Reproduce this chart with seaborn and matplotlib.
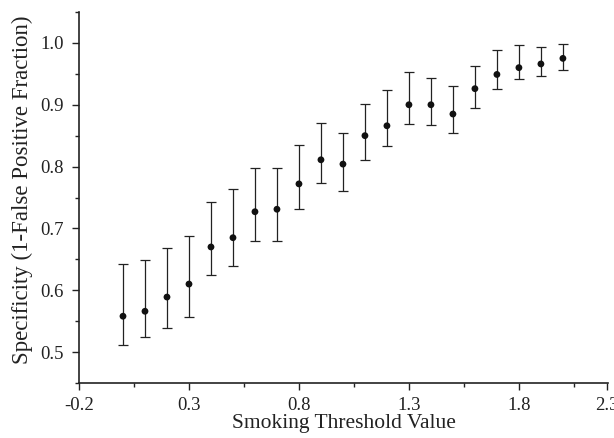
import numpy as np
import pandas as pd
import matplotlib
matplotlib.use("Agg")
import matplotlib.pyplot as plt
import seaborn as sns
from matplotlib.ticker import FixedLocator, MultipleLocator

# data
threshold = [0.0, 0.1, 0.2, 0.3, 0.4, 0.5, 0.6, 0.7, 0.8, 0.9, 1.0,
             1.1, 1.2, 1.3, 1.4, 1.5, 1.6, 1.7, 1.8, 1.9, 2.0]
specificity = [0.558, 0.566, 0.589, 0.610, 0.670, 0.685, 0.727, 0.731, 0.772, 0.811, 0.804,
               0.850, 0.866, 0.900, 0.900, 0.885, 0.926, 0.949, 0.960, 0.966, 0.975]
upper = [0.642, 0.649, 0.669, 0.688, 0.742, 0.763, 0.798, 0.798, 0.835, 0.870, 0.855,
         0.901, 0.924, 0.953, 0.944, 0.930, 0.963, 0.988, 0.996, 0.994, 0.998]
lower = [0.511, 0.525, 0.539, 0.557, 0.624, 0.639, 0.680, 0.680, 0.731, 0.774, 0.760,
         0.811, 0.834, 0.869, 0.868, 0.854, 0.894, 0.926, 0.941, 0.946, 0.956]

x_tick_pos = [-0.2, 0.3, 0.8, 1.3, 1.8, 2.2]
x_tick_labels = ["-0.2", "0.3", "0.8", "1.3", "1.8", "2.3"]
x_minor = [0.05, 0.55, 1.05, 1.55, 2.05]
y_ticks = [0.5, 0.6, 0.7, 0.8, 0.9, 1.0]

df = pd.DataFrame({"threshold": threshold, "spec": specificity,
                   "upper": upper, "lower": lower})

sns.set_style("ticks")
plt.rcParams["font.family"] = ["Liberation Serif", "DejaVu Serif"]

fig = plt.figure(figsize=(6.14, 4.38), dpi=100)
ax = fig.add_axes([79 / 614, 1 - 383 / 438, (608 - 79) / 614, (383 - 12) / 438])

yerr = np.array([df["spec"] - df["lower"], df["upper"] - df["spec"]])
ax.errorbar(df["threshold"], df["spec"], yerr=yerr, fmt="none", ecolor="#222222",
            elinewidth=0.9, capsize=3.5, capthick=0.9, zorder=2)
sns.scatterplot(data=df, x="threshold", y="spec", ax=ax, color="#111111",
                s=24, edgecolor="none", zorder=3)

ax.set_xlim(-0.2, 2.205)
ax.set_ylim(0.45, 1.05)
ax.set_xticks(x_tick_pos)
ax.set_xticklabels(x_tick_labels)
ax.set_yticks(y_ticks)
ax.set_yticklabels([f"{v:.1f}" for v in y_ticks])
ax.xaxis.set_minor_locator(FixedLocator(x_minor))
ax.yaxis.set_minor_locator(MultipleLocator(0.05))
ax.tick_params(which="major", direction="out", length=5, width=1, labelsize=13.5, colors="#222222")
ax.tick_params(axis="y", which="major", pad=6)
ax.tick_params(axis="x", which="major", pad=5)
ax.tick_params(which="minor", direction="out", length=3, width=1, colors="#222222")

ax.set_xlabel("Smoking Threshold Value", fontsize=15.5, color="#222222", labelpad=0)
ax.set_ylabel("Specificity (1-False Positive Fraction)", fontsize=16.5, color="#222222")
ax.yaxis.set_label_coords(-0.087, 0.52)

sns.despine(ax=ax)
for side in ["left", "bottom"]:
    ax.spines[side].set_linewidth(1.2)
    ax.spines[side].set_color("#222222")

fig.savefig("out.png", dpi=100)
